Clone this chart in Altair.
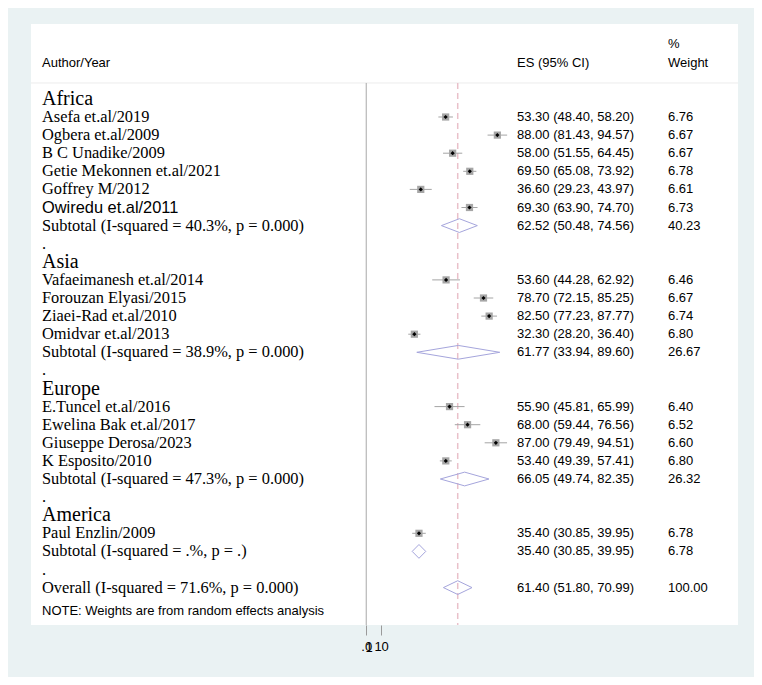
import altair as alt
import pandas as pd

# ---------------- data ----------------
group_names = ["Africa", "Asia", "Europe", "America"]
group_rows = [-1, 8, 15, 22]
dot_rows = [7, 14, 21, 25]

study_labels = [
    "Asefa et.al/2019", "Ogbera et.al/2009", "B C Unadike/2009",
    "Getie Mekonnen et.al/2021", "Goffrey M/2012", "Owiredu et.al/2011",
    "Vafaeimanesh et.al/2014", "Forouzan Elyasi/2015", "Ziaei-Rad et.al/2010",
    "Omidvar et.al/2013",
    "E.Tuncel et.al/2016", "Ewelina Bak et.al/2017", "Giuseppe Derosa/2023",
    "K Esposito/2010",
    "Paul Enzlin/2009",
]
study_es = [53.30, 88.00, 58.00, 69.50, 36.60, 69.30,
            53.60, 78.70, 82.50, 32.30,
            55.90, 68.00, 87.00, 53.40,
            35.40]
study_lci = [48.40, 81.43, 51.55, 65.08, 29.23, 63.90,
             44.28, 72.15, 77.23, 28.20,
             45.81, 59.44, 79.49, 49.39,
             30.85]
study_uci = [58.20, 94.57, 64.45, 73.92, 43.97, 74.70,
             62.92, 85.25, 87.77, 36.40,
             65.99, 76.56, 94.51, 57.41,
             39.95]
study_wt = [6.76, 6.67, 6.67, 6.78, 6.61, 6.73,
            6.46, 6.67, 6.74, 6.80,
            6.40, 6.52, 6.60, 6.80,
            6.78]
study_rows = [0, 1, 2, 3, 4, 5, 9, 10, 11, 12, 16, 17, 18, 19, 23]

sub_labels = [
    "Subtotal (I-squared = 40.3%, p = 0.000)",
    "Subtotal (I-squared = 38.9%, p = 0.000)",
    "Subtotal (I-squared = 47.3%, p = 0.000)",
    "Subtotal (I-squared = .%, p = .)",
    "Overall (I-squared = 71.6%, p = 0.000)",
]
sub_es = [62.52, 61.77, 66.05, 35.40, 61.40]
sub_lci = [50.48, 33.94, 49.74, 30.85, 51.80]
sub_uci = [74.56, 89.60, 82.35, 39.95, 70.99]
sub_wt = [40.23, 26.67, 26.32, 6.78, 100.00]
sub_rows = [6, 13, 20, 24, 26]

overall_es = 61.40
tick_values = [0, 10]
note_text = "NOTE: Weights are from random effects analysis"

# ---------------- tables ----------------
studies = pd.DataFrame({
    "label": study_labels, "es": study_es, "lci": study_lci,
    "uci": study_uci, "wt": study_wt, "row": study_rows,
})
subs = pd.DataFrame({
    "label": sub_labels, "es": sub_es, "lci": sub_lci,
    "uci": sub_uci, "wt": sub_wt, "row": sub_rows,
})
allrows = pd.concat([studies, subs], ignore_index=True)
allrows["ci_text"] = [f"{e:.2f} ({l:.2f}, {u:.2f})" for e, l, u in
                      zip(allrows["es"], allrows["lci"], allrows["uci"])]
allrows["wt_text"] = [f"{w:.2f}" for w in allrows["wt"]]

H = 0.38
dia = []
for i, (e, l, u, r) in enumerate(zip(sub_es, sub_lci, sub_uci, sub_rows)):
    for k, (xv, yv) in enumerate([(l, r), (e, r - H), (u, r), (e, r + H), (l, r)]):
        dia.append({"id": i, "k": k, "x": xv, "row": yv})
dia = pd.DataFrame(dia)

groups = pd.DataFrame({"label": group_names, "row": group_rows})
dots = pd.DataFrame({"label": ["."] * len(dot_rows), "row": dot_rows})
headers = pd.DataFrame({
    "label": ["Author/Year", "ES (95% CI)", "%", "Weight"],
    "col": ["a", "b", "c", "c"],
    "row": [-3.0, -3.0, -4.05, -3.0],
})

# ---------------- scales ----------------
xscale = alt.Scale(domain=[-224.97, 249.5], nice=False, zero=False)
yscale = alt.Scale(domain=[-5.138, 28.066], nice=False, zero=False, reverse=True)
xaxis = alt.Axis(values=tick_values, grid=False, domain=False, ticks=True,
                 tickColor="#9a9a9a", tickSize=10, labelFont="Liberation Sans",
                 labelFontSize=13, labelColor="black", labelPadding=5,
                 labelExpr="datum.value == 0 ? '.0' : '10'", title=None)
Y = lambda: alt.Y("row:Q", scale=yscale, axis=None)

serif = "Liberation Serif"
sans = "Liberation Sans"
NAME_SIZE = 16.4

base_rules = pd.DataFrame({"x": [0.0, overall_es], "kind": ["axis", "overall"],
                           "y1": [-1.88, -1.88], "y2": [28.066, 28.066]})

header_line = alt.Chart(pd.DataFrame({"row": [-1.88]})).mark_rule(
    color="#ececec", strokeWidth=1
).encode(y=Y(), x=alt.value(0), x2=alt.value(707))

axis_line = alt.Chart(base_rules).transform_filter("datum.kind == 'axis'").mark_rule(
    color="#a8a8a8", strokeWidth=1
).encode(x=alt.X("x:Q", scale=xscale, axis=xaxis),
         y=alt.Y("y1:Q", scale=yscale, axis=None), y2="y2:Q")

dash_line = alt.Chart(base_rules).transform_filter("datum.kind == 'overall'").mark_rule(
    color="#e9c0ca", strokeWidth=1.5, strokeDash=[6, 4]
).encode(x=alt.X("x:Q", scale=xscale, axis=xaxis),
         y=alt.Y("y1:Q", scale=yscale, axis=None), y2="y2:Q")

ci = alt.Chart(studies).mark_rule(color="#a4a4a4", strokeWidth=1).encode(
    x=alt.X("lci:Q", scale=xscale, axis=xaxis), x2="uci:Q", y=Y())

boxes = alt.Chart(studies).mark_square(color="#a6a6a6", opacity=1, size=52).encode(
    x=alt.X("es:Q", scale=xscale, axis=xaxis), y=Y())

pts = alt.Chart(studies).mark_point(shape="diamond", filled=True, color="black",
                                    opacity=1, size=18).encode(
    x=alt.X("es:Q", scale=xscale, axis=xaxis), y=Y())

diamonds = alt.Chart(dia).mark_line(color="#a5a5dc", strokeWidth=1).encode(
    x=alt.X("x:Q", scale=xscale, axis=xaxis), y=Y(), detail="id:N", order="k:Q")

extra_one = alt.Chart(pd.DataFrame({"x": [0.0], "t": ["1"]})).mark_text(
    font=sans, fontSize=13, align="center", baseline="middle", dx=3, color="black"
).encode(x=alt.X("x:Q", scale=xscale, axis=xaxis), y=alt.value(624), text="t:N")

name_serif = alt.Chart(allrows).transform_filter(
    "datum.label != 'Owiredu et.al/2011'").mark_text(
    font=serif, fontSize=NAME_SIZE, align="left", baseline="middle", color="black"
).encode(x=alt.value(11), y=Y(), text="label:N")

name_sans = alt.Chart(allrows).transform_filter(
    "datum.label == 'Owiredu et.al/2011'").mark_text(
    font=sans, fontSize=NAME_SIZE, align="left", baseline="middle", color="black"
).encode(x=alt.value(11), y=Y(), text="label:N")

group_text = alt.Chart(groups).mark_text(
    font=serif, fontSize=20, align="left", baseline="middle", color="black"
).encode(x=alt.value(11), y=Y(), text="label:N")

dot_text = alt.Chart(dots).mark_text(
    font=serif, fontSize=NAME_SIZE, align="left", baseline="middle", color="black"
).encode(x=alt.value(11), y=Y(), text="label:N")

ci_text = alt.Chart(allrows).mark_text(
    font=sans, fontSize=13, align="left", baseline="middle", color="black"
).encode(x=alt.value(486), y=Y(), text="ci_text:N")

wt_text = alt.Chart(allrows).mark_text(
    font=sans, fontSize=13, align="left", baseline="middle", color="black"
).encode(x=alt.value(637), y=Y(), text="wt_text:N")

hdr_a = alt.Chart(headers).transform_filter("datum.col == 'a'").mark_text(
    font=sans, fontSize=13, align="left", baseline="middle", color="black"
).encode(x=alt.value(11), y=Y(), text="label:N")
hdr_b = alt.Chart(headers).transform_filter("datum.col == 'b'").mark_text(
    font=sans, fontSize=13, align="left", baseline="middle", color="black"
).encode(x=alt.value(486), y=Y(), text="label:N")
hdr_c = alt.Chart(headers).transform_filter("datum.col == 'c'").mark_text(
    font=sans, fontSize=13, align="left", baseline="middle", color="black"
).encode(x=alt.value(637), y=Y(), text="label:N")

note = alt.Chart(pd.DataFrame({"label": [note_text], "row": [27.3]})).mark_text(
    font=sans, fontSize=13, align="left", baseline="middle", color="black"
).encode(x=alt.value(11), y=Y(), text="label:N")

chart = alt.layer(
    header_line, axis_line, dash_line, ci, boxes, pts, diamonds, extra_one,
    name_serif, name_sans, group_text, dot_text, ci_text, wt_text,
    hdr_a, hdr_b, hdr_c, note,
).properties(
    width=707, height=601,
    padding={"left": 23, "top": 16, "right": 16, "bottom": 52},
    autosize=alt.AutoSizeParams(type="none"),
    background="#eaf2f3",
).configure_view(fill="white", strokeWidth=0)

chart.save("out.html", embed_options={"renderer": "svg", "actions": False})
